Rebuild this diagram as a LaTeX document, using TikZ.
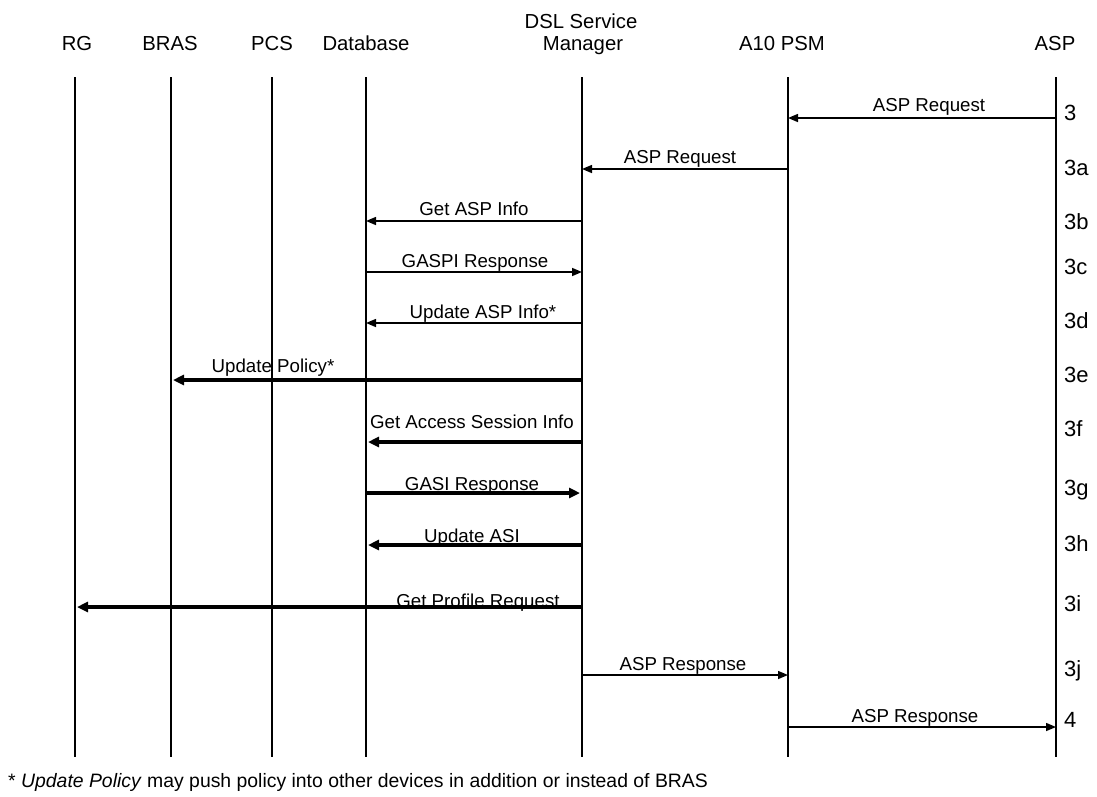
\documentclass[tikz,border=0pt]{standalone}
\usepackage{fontspec}
\setmainfont{Liberation Sans}
\usetikzlibrary{arrows.meta}

\begin{document}
\begin{tikzpicture}[x=1pt,y=-1pt,
  head/.style={anchor=base,inner sep=0pt,font=\fontsize{20.3}{22}\selectfont},
  lbl/.style={anchor=base,inner sep=0pt,font=\fontsize{18.7}{20}\selectfont},
  num/.style={anchor=base west,inner sep=0pt,font=\fontsize{22}{24}\selectfont},
  life/.style={line width=1.4pt},
  msg/.style={line width=1.5pt,-{Triangle[length=10pt,width=8pt]}},
  bigmsg/.style={line width=3.2pt,-{Triangle[length=11pt,width=10pt]},shorten >=2pt}]
  \useasboundingbox (0,0) rectangle (1097,796);
  \node[head] (hrg) at (77,50) {RG};
  \node[head] (hbras) at (170,50) {BRAS};
  \node[head] (hpcs) at (272,50) {PCS};
  \node[head] (hdb) at (366,50) {Database};
  \node[head] (hdsl) at (581,28) {DSL Service};
  \node[head] (hdsl2) at (583,50) {Manager};
  \node[head] (hpsm) at (782,50) {A10 PSM};
  \node[head] (hasp) at (1055,50) {ASP};
  \coordinate (rg) at (75,77);   \coordinate (rgb) at (75,757);
  \coordinate (bras) at (171,77); \coordinate (brasb) at (171,757);
  \coordinate (pcs) at (272,77);  \coordinate (pcsb) at (272,757);
  \coordinate (db) at (366,77);   \coordinate (dbb) at (366,757);
  \coordinate (dsl) at (582,77);  \coordinate (dslb) at (582,757);
  \coordinate (psm) at (788,77);  \coordinate (psmb) at (788,757);
  \coordinate (asp) at (1056,77); \coordinate (aspb) at (1056,757);
  \draw[life] (rg) -- (rgb);
  \draw[life] (bras) -- (brasb);
  \draw[life] (pcs) -- (pcsb);
  \draw[life] (db) -- (dbb);
  \draw[life] (dsl) -- (dslb);
  \draw[life] (psm) -- (psmb);
  \draw[life] (asp) -- (aspb);
  \coordinate (r3) at (0,118);  \coordinate (r3a) at (0,169);
  \coordinate (r3b) at (0,221); \coordinate (r3c) at (0,272);
  \coordinate (r3d) at (0,323); \coordinate (r3e) at (0,380);
  \coordinate (r3f) at (0,442); \coordinate (r3g) at (0,493);
  \coordinate (r3h) at (0,545); \coordinate (r3i) at (0,607);
  \coordinate (r3j) at (0,675); \coordinate (r4) at (0,727);
  \draw[msg] (asp |- r3) -- (psm |- r3);
  \draw[msg] (psm |- r3a) -- (dsl |- r3a);
  \draw[msg] (dsl |- r3b) -- (db |- r3b);
  \draw[msg] (db |- r3c) -- (dsl |- r3c);
  \draw[msg] (dsl |- r3d) -- (db |- r3d);
  \draw[bigmsg] (dsl |- r3e) -- (bras |- r3e);
  \draw[bigmsg] (dsl |- r3f) -- (db |- r3f);
  \draw[bigmsg] (db |- r3g) -- (dsl |- r3g);
  \draw[bigmsg] (dsl |- r3h) -- (db |- r3h);
  \draw[bigmsg] (dsl |- r3i) -- (rg |- r3i);
  \draw[msg] (dsl |- r3j) -- (psm |- r3j);
  \draw[msg] (psm |- r4) -- (asp |- r4);
  \node[lbl] (l3) at (929,111) {ASP Request};
  \node[lbl] (l3a) at (680,163) {ASP Request};
  \node[lbl] (l3b) at (474,215) {Get ASP Info};
  \node[lbl] (l3c) at (475,267) {GASPI Response};
  \node[lbl] (l3d) at (483,318) {Update ASP Info*};
  \node[lbl] (l3e) at (273,372) {Update Policy*};
  \node[lbl] (l3f) at (472,428) {Get Access Session Info};
  \node[lbl] (l3g) at (472,490) {GASI Response};
  \node[lbl] (l3h) at (472,542) {Update ASI};
  \node[lbl] (l3i) at (478,607) {Get Profile Request};
  \node[lbl] (l3j) at (683,670) {ASP Response};
  \node[lbl] (l4) at (915,722) {ASP Response};
  \node[num] (n3) at (1064,120) {3};
  \node[num] (n3a) at (1064,175) {3a};
  \node[num] (n3b) at (1064,229) {3b};
  \node[num] (n3c) at (1064,274) {3c};
  \node[num] (n3d) at (1064,328) {3d};
  \node[num] (n3e) at (1064,382) {3e};
  \node[num] (n3f) at (1064,436) {3f};
  \node[num] (n3g) at (1064,495) {3g};
  \node[num] (n3h) at (1064,551) {3h};
  \node[num] (n3i) at (1064,611) {3i};
  \node[num] (n3j) at (1064,676) {3j};
  \node[num] (n4) at (1064,727) {4};
  \node[anchor=base west,inner sep=0pt,font=\fontsize{19.4}{21}\selectfont] (note) at (8,787) {* \textit{Update Policy} may push policy into other devices in addition or instead of BRAS};
\end{tikzpicture}
\end{document}
